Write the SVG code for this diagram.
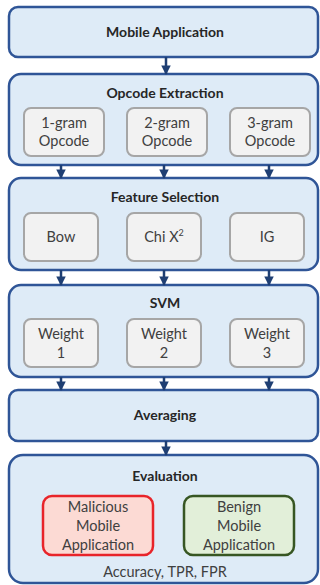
<svg xmlns="http://www.w3.org/2000/svg" width="320" height="585" viewBox="0 0 320 585">
<defs>
<marker id="ah" viewBox="0 0 10 10" refX="9" refY="5" markerWidth="3.8" markerHeight="3.8" markerUnits="strokeWidth" orient="auto">
<path d="M0,0 L10,5 L0,10 z" fill="#1f3f73"/>
</marker>
<style>
.outer{fill:#deebf7;stroke:#2f5597;stroke-width:2.5}
.inner{fill:#f2f2f2;stroke:#a6a6a6;stroke-width:2}
.title{font-family:Lato,"Liberation Sans",sans-serif;font-weight:bold;font-size:14px;fill:#262626;text-anchor:middle}
.lbl{font-family:Lato,"Liberation Sans",sans-serif;font-size:14.5px;fill:#404040;text-anchor:middle}
.conn line{stroke:#1f3f73;stroke-width:2.5;marker-end:url(#ah)}
</style>
</defs>
<g id="mobile-app">
<rect class="outer" x="9" y="7" width="309" height="50" rx="9"/>
<text class="title" x="165" y="37">Mobile Application</text>
</g>
<g id="opcode-extraction">
<rect class="outer" x="9" y="74" width="309" height="91" rx="12"/>
<text class="title" x="165" y="98">Opcode Extraction</text>
<g id="gram1"><rect class="inner" x="24" y="108" width="80" height="48" rx="7"/>
<text class="lbl" x="64" y="128">1-gram</text><text class="lbl" x="64" y="146">Opcode</text></g>
<g id="gram2"><rect class="inner" x="127" y="108" width="80" height="48" rx="7"/>
<text class="lbl" x="167" y="128">2-gram</text><text class="lbl" x="167" y="146">Opcode</text></g>
<g id="gram3"><rect class="inner" x="230" y="108" width="80" height="48" rx="7"/>
<text class="lbl" x="270" y="128">3-gram</text><text class="lbl" x="270" y="146">Opcode</text></g>
</g>
<g id="feature-selection">
<rect class="outer" x="9" y="178" width="309" height="92" rx="12"/>
<text class="title" x="165" y="202">Feature Selection</text>
<g id="bow"><rect class="inner" x="24" y="213" width="74" height="48" rx="7"/>
<text class="lbl" x="61" y="242">Bow</text></g>
<g id="chi"><rect class="inner" x="127" y="213" width="74" height="48" rx="7"/>
<text class="lbl" x="164" y="242">Chi X<tspan font-size="9" dy="-6">2</tspan></text></g>
<g id="ig"><rect class="inner" x="230" y="213" width="74" height="48" rx="7"/>
<text class="lbl" x="267" y="242">IG</text></g>
</g>
<g id="svm">
<rect class="outer" x="9" y="285" width="309" height="92" rx="12"/>
<text class="title" x="165" y="308">SVM</text>
<g id="w1"><rect class="inner" x="24" y="319" width="74" height="48" rx="7"/>
<text class="lbl" x="61" y="339">Weight</text><text class="lbl" x="61" y="358">1</text></g>
<g id="w2"><rect class="inner" x="127" y="319" width="74" height="48" rx="7"/>
<text class="lbl" x="164" y="339">Weight</text><text class="lbl" x="164" y="358">2</text></g>
<g id="w3"><rect class="inner" x="230" y="319" width="74" height="48" rx="7"/>
<text class="lbl" x="267" y="339">Weight</text><text class="lbl" x="267" y="358">3</text></g>
</g>
<g id="averaging">
<rect class="outer" x="9" y="390" width="309" height="51" rx="9"/>
<text class="title" x="165" y="420">Averaging</text>
</g>
<g id="evaluation">
<rect class="outer" x="9" y="455" width="309" height="128" rx="14"/>
<text class="title" x="165" y="481">Evaluation</text>
<g id="malicious"><rect x="43" y="496" width="110" height="59" rx="9" fill="#fcdad4" stroke="#e8242a" stroke-width="2.5"/>
<text class="lbl" x="98" y="512">Malicious</text><text class="lbl" x="98" y="531">Mobile</text><text class="lbl" x="98" y="550">Application</text></g>
<g id="benign"><rect x="184" y="496" width="110" height="59" rx="9" fill="#e2efd9" stroke="#375623" stroke-width="2.5"/>
<text class="lbl" x="239" y="512">Benign</text><text class="lbl" x="239" y="531">Mobile</text><text class="lbl" x="239" y="550">Application</text></g>
<text class="lbl" x="165" y="577">Accuracy, TPR, FPR</text>
</g>
<g id="connectors" class="conn">
<line x1="166" y1="57" x2="166" y2="74"/>
<line x1="61" y1="165" x2="61" y2="178"/>
<line x1="164" y1="165" x2="164" y2="178"/>
<line x1="269" y1="165" x2="269" y2="178"/>
<line x1="61" y1="270" x2="61" y2="285"/>
<line x1="164" y1="270" x2="164" y2="285"/>
<line x1="269" y1="270" x2="269" y2="285"/>
<line x1="61" y1="377" x2="61" y2="390"/>
<line x1="164" y1="377" x2="164" y2="390"/>
<line x1="269" y1="377" x2="269" y2="390"/>
<line x1="166" y1="441" x2="166" y2="455"/>
</g>
</svg>
